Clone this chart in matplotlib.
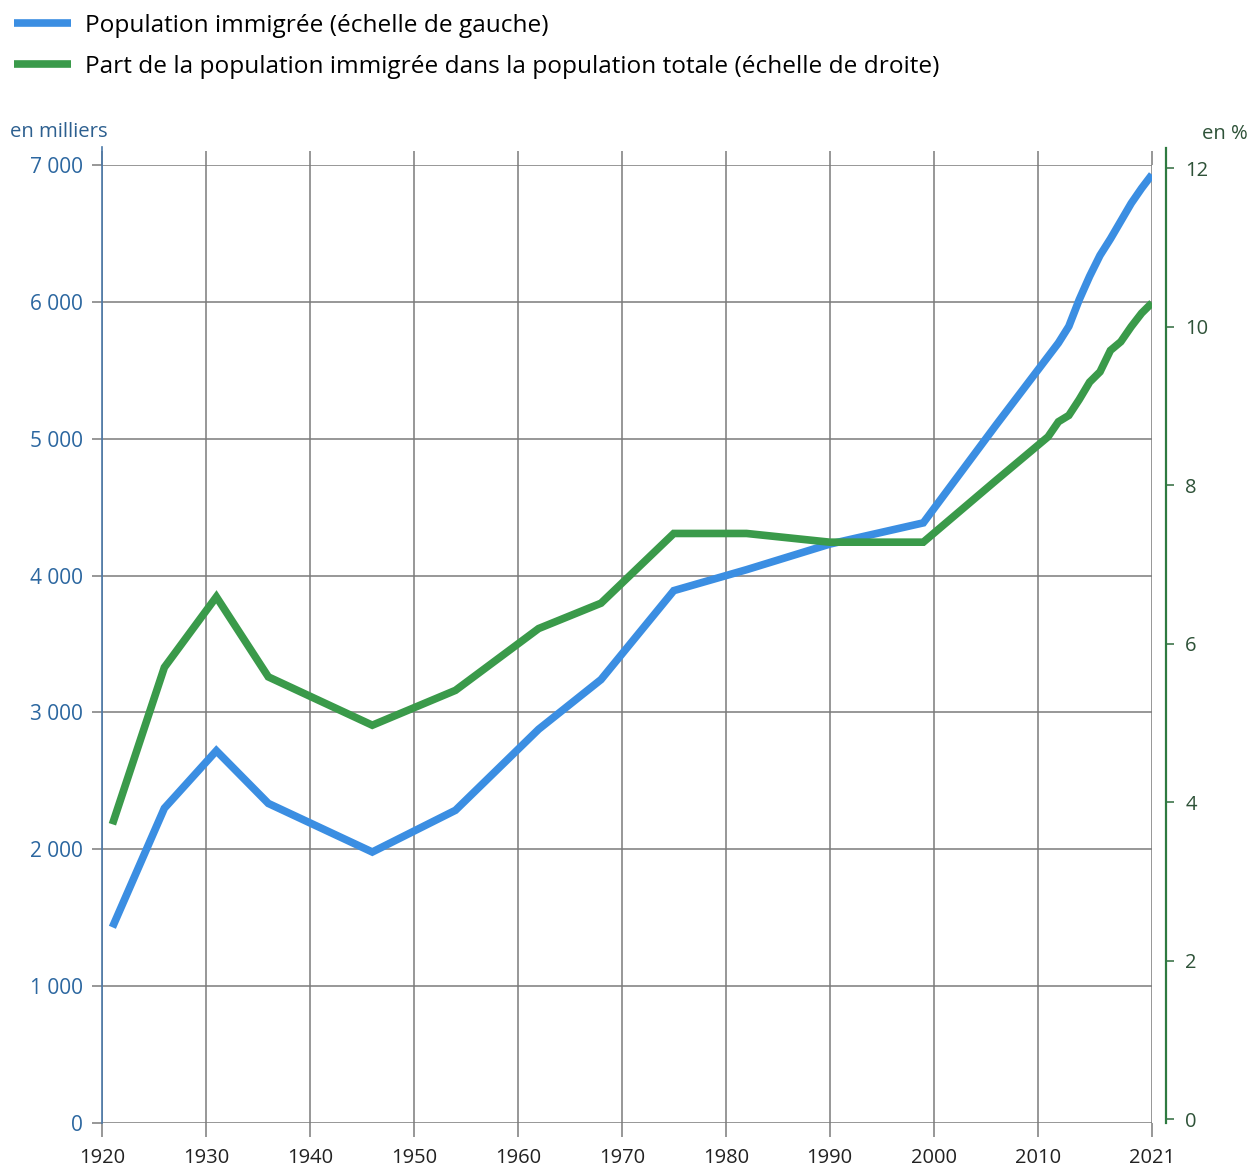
import matplotlib
matplotlib.use("Agg")
import matplotlib.pyplot as plt

plt.rcParams['font.family'] = ['Open Sans', 'DejaVu Sans']

# population immigrée, en milliers (échelle de gauche)
annees_pop = [1921, 1926, 1931, 1936, 1946, 1954, 1962, 1968, 1975, 1982, 1990, 1999,
              2006, 2011, 2012, 2013, 2014, 2015, 2016, 2017, 2018, 2019, 2020, 2021]
population = [1430, 2300, 2720, 2335, 1980, 2285, 2877, 3240, 3890, 4043, 4230, 4385,
              5100, 5600, 5700, 5821, 6016, 6187, 6340, 6460, 6590, 6720, 6830, 6930]

# part dans la population totale, en % (échelle de droite)
annees_part = [1921, 1926, 1931, 1936, 1946, 1954, 1962, 1968, 1975, 1982, 1990, 1999,
               2006, 2011, 2012, 2013, 2014, 2015, 2016, 2017, 2018, 2019, 2020, 2021]
part = [3.72, 5.70, 6.59, 5.58, 4.97, 5.41, 6.19, 6.51, 7.39, 7.39, 7.28, 7.28,
        8.06, 8.61, 8.80, 8.88, 9.08, 9.30, 9.43, 9.70, 9.81, 10.0, 10.17, 10.30]

xticks = [1920, 1930, 1940, 1950, 1960, 1970, 1980, 1990, 2000, 2010, 2021]
yticks_g = [0, 1000, 2000, 3000, 4000, 5000, 6000, 7000]
ylabels_g = ["0", "1 000", "2 000", "3 000", "4 000", "5 000", "6 000", "7 000"]
yticks_d = [0, 2, 4, 6, 8, 10, 12]

bleu = "#3b8ee2"
vert = "#3a9a4a"
gris = "#7a7a7a"

fig = plt.figure(figsize=(12.51, 11.66), dpi=100)
ax = fig.add_axes([102 / 1251, 1 - 1123 / 1166, 1050 / 1251, 958 / 1166])

ax.set_xlim(1920, 2021)
ax.set_ylim(0, 7000)
ax.set_xticks(xticks)
ax.set_xticklabels([str(a) for a in xticks])
ax.set_yticks(yticks_g)
ax.set_yticklabels(ylabels_g)
ax.grid(True, color=gris, lw=1.1)
ax.set_axisbelow(True)
ax.tick_params(axis='x', top=True, direction='out', length=10, width=1.1, color=gris, pad=8,
               labelsize=14.5, labelcolor="#222222")
ax.tick_params(axis='y', direction='out', length=7, width=1.1, color=gris, pad=7,
               labelsize=15, labelcolor="#2c67a0")
for s in ['top', 'bottom', 'right']:
    ax.spines[s].set_visible(False)
ax.spines['left'].set_color("#4a78a8")
ax.spines['left'].set_linewidth(1.2)
ax.spines['left'].set_bounds(0, 7130)

l1, = ax.plot(annees_pop, population, color=bleu, lw=5.5, solid_joinstyle='miter',
              solid_capstyle='butt', label="Population immigrée (échelle de gauche)", zorder=3)

ax2 = ax.twinx()
ax2.set_ylim(-0.05, 12.04)
ax2.set_yticks(yticks_d)
ax2.set_yticklabels([str(v) for v in yticks_d])
ax2.tick_params(axis='y', direction='out', length=6, width=1.1, color="#2e6a3c", pad=8,
                labelsize=14.5, labelcolor="#2e5238")
for s in ['top', 'bottom', 'left']:
    ax2.spines[s].set_visible(False)
ax2.spines['right'].set_position(('outward', 10))
ax2.spines['right'].set_color("#2e7a40")
ax2.spines['right'].set_linewidth(1.6)
ax2.spines['right'].set_bounds(-0.05, 12.25)

l2, = ax2.plot(annees_part, part, color=vert, lw=5.5, solid_joinstyle='miter',
               solid_capstyle='butt',
               label="Part de la population immigrée dans la population totale (échelle de droite)",
               zorder=3)

fig.text(10 / 1251, 1 - 132 / 1166, "en milliers", fontsize=14.6, color="#2c5f8f", va='center')
fig.text(1248 / 1251, 1 - 134 / 1166, "en %", fontsize=14.6, color="#2e5238", va='center', ha='right')

fig.legend(handles=[l1, l2], loc='upper left', bbox_to_anchor=(-0.006, 1.007), frameon=False,
           fontsize=17.6, handlelength=2.3, handletextpad=0.6, labelspacing=0.7)

fig.savefig("out.png", dpi=100)
